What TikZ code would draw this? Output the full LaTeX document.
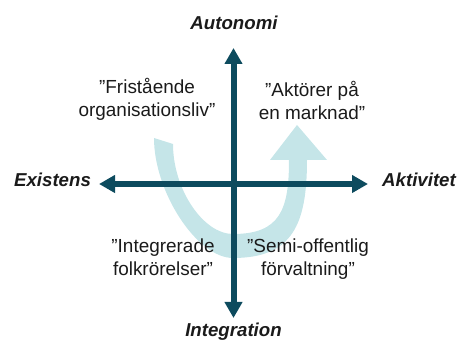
\documentclass[tikz,border=0pt]{standalone}
\usepackage{fontspec}
\setmainfont{Liberation Sans}
\usetikzlibrary{arrows.meta}
\definecolor{axiscol}{HTML}{0D4B5E}
\definecolor{bandcol}{HTML}{C5E5E8}
\definecolor{txtcol}{HTML}{1A1A1A}
\begin{document}
\begin{tikzpicture}[x=0.75pt,y=-0.75pt,
  axis/.style={draw=axiscol,line width=4.5pt,{Triangle[length=12pt,width=12.75pt]}-{Triangle[length=12pt,width=12.75pt]}},
  axlabel/.style={font=\fontsize{14}{17}\selectfont\bfseries\itshape,text=txtcol,anchor=base,inner sep=0pt},
  quad/.style={font=\fontsize{14.2}{17.25}\selectfont,text=txtcol,align=center,anchor=base,inner sep=0pt},
  band/.style={fill=bandcol,draw=none}]
\useasboundingbox (0,0) rectangle (458,341);
% curved arrow band
\path[band] (154,138) .. controls (154,192) and (197,258) .. (233,258)
  .. controls (292,258) and (307,225) .. (307,160)
  -- (327,160) -- (297,125) -- (270,160) -- (289,160)
  .. controls (289,210) and (280,234) .. (233,234)
  .. controls (203,234) and (173,189) .. (173,144) -- cycle;
% axes
\coordinate (top) at (233.5,48);
\coordinate (bot) at (233.5,318);
\coordinate (lft) at (99,184);
\coordinate (rgt) at (368,184);
\draw[axis] (bot) -- (top);
\draw[axis] (lft) -- (rgt);
% axis labels
\node[axlabel] (auto) at (234,30) {Autonomi};
\node[axlabel] (integ) at (233.5,337) {Integration};
\node[axlabel] (exist) at (52.5,186.5) {Existens};
\node[axlabel] (aktiv) at (419,186.5) {Aktivitet};
% quadrant texts (anchor = baseline of the last line)
\node[quad] (tl) at (147,116.7) {”Fristående\\organisationsliv”};
\node[quad] (tr) at (312,119.2) {”Aktörer på\\en marknad”};
\node[quad] (bl) at (163,275.5) {”Integrerade\\folkrörelser”};
\node[quad] (br) at (308,275.8) {”Semi-offentlig\\förvaltning”};
\end{tikzpicture}
\end{document}
